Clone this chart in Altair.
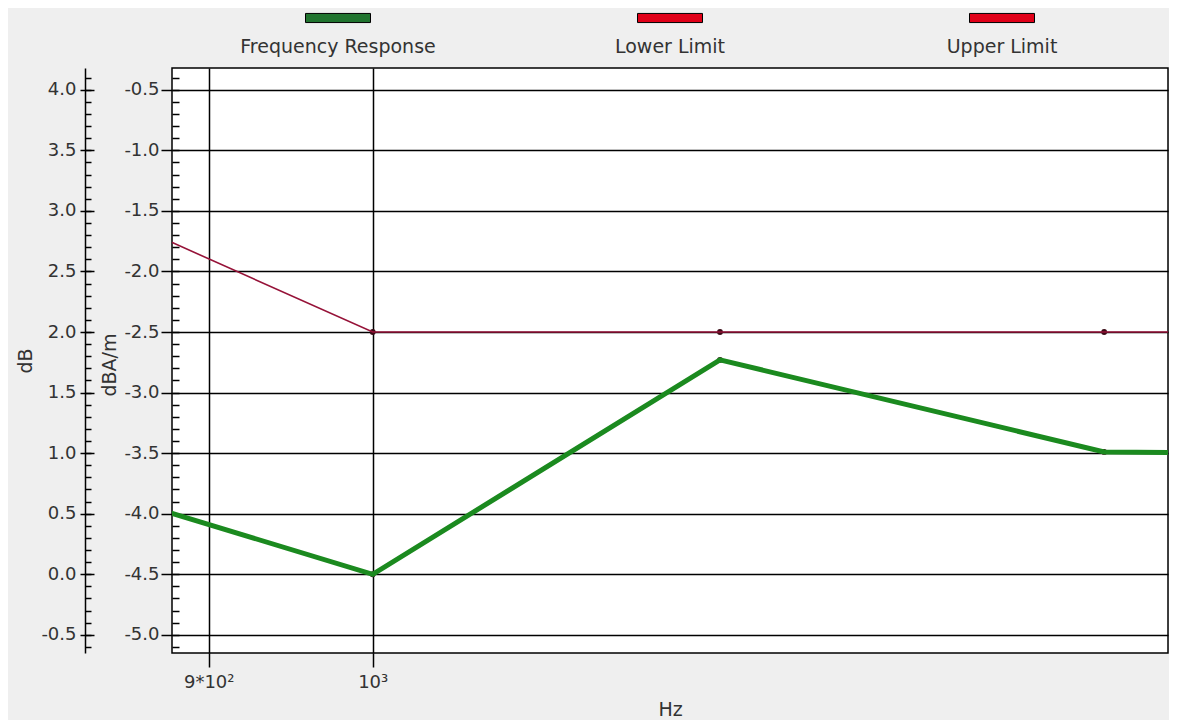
import altair as alt
import pandas as pd

# ---- data ----
freq_hz = [800, 1000, 1250, 1600, 2000]
response_dba_m = [-3.63, -4.5, -2.73, -3.49, -3.52]
lower_limit_dba_m = [-1.22, -2.5, -2.5, -2.5, -2.5]

series_names = ["Frequency Response", "Lower Limit", "Upper Limit"]
line_colors = ["#1b8a1f", "#961238", "#961238"]
legend_fills = ["#21742f", "#e00018", "#e00018"]

x_domain = [879, 1667]
y_domain = [-5.15, -0.32]
y_major = [-5.0, -4.5, -4.0, -3.5, -3.0, -2.5, -2.0, -1.5, -1.0, -0.5]
y_minor = [round(-5.1 + 0.1 * i, 1) for i in range(48)]
x_tick_values = [900, 1000]
x_tick_labels = ["9*10²", "10³"]
db_shift = 4.5

W, H = 996, 585
FONT = "DejaVu Sans"
TXT = "#333333"
BG = "#efefef"

df = pd.DataFrame({
    "freq": freq_hz + freq_hz,
    "value": response_dba_m + lower_limit_dba_m,
    "series": [series_names[0]] * len(freq_hz) + [series_names[1]] * len(freq_hz),
})

label_expr = " : ".join(
    f"datum.value == {v} ? '{t}'" for v, t in zip(x_tick_values[:-1], x_tick_labels[:-1])
) + f" : '{x_tick_labels[-1]}'"

xscale = alt.Scale(type="log", domain=x_domain, nice=False, zero=False)
yscale = alt.Scale(domain=y_domain, nice=False, zero=False)

x_main = alt.X(
    "freq:Q", scale=xscale,
    axis=alt.Axis(values=x_tick_values, labelExpr=label_expr, tickSize=14,
                  tickColor="black", tickWidth=1.5, grid=True, gridColor="black",
                  gridWidth=1.5, gridOpacity=1, domain=False, labelPadding=6,
                  labelFont=FONT, labelFontSize=18, labelColor=TXT,
                  title="Hz", titleFont=FONT, titleFontSize=19, titleFontWeight="normal",
                  titleColor=TXT, titleY=56, titleBaseline="middle", titleAlign="center"),
)
x_none = alt.X("freq:Q", scale=xscale, axis=None)


def yenc(axis):
    return alt.Y("value:Q", scale=yscale, axis=axis)


ax_inner_major = alt.Axis(
    values=y_major, orient="left", tickSize=11, tickColor="black",
    labelExpr="replace(format(datum.value, '.1f'), '\u2212', '-')",
    tickWidth=1.5, grid=True, gridColor="black", gridWidth=1.5, gridOpacity=1,
    domain=False, labelPadding=2, labelFont=FONT, labelFontSize=18, labelColor=TXT,
    title="dBA/m", titleFont=FONT, titleFontSize=19, titleFontWeight="normal",
    titleColor=TXT, titleX=-63, titleY=H / 2 + 4, titleAngle=270, titleAlign="center",
    titleBaseline="middle",
)
ax_inner_minor = alt.Axis(
    values=y_minor, orient="right", offset=-W, tickSize=7, tickColor="black",
    tickWidth=1.5, labels=False, domain=False, grid=False, title="",
)
ax_outer = alt.Axis(
    values=y_major, orient="left", offset=87, tickSize=5, tickColor="black",
    tickWidth=1.5, domain=True, domainColor="black", domainWidth=1.5, grid=False,
    labelExpr=f"replace(format(datum.value + {db_shift}, '.1f'), '\u2212', '-')",
    labelPadding=4, labelFont=FONT, labelFontSize=18, labelColor=TXT,
    title="dB", titleFont=FONT, titleFontSize=19, titleFontWeight="normal",
    titleColor=TXT, titleX=-60, titleY=H / 2, titleAngle=270, titleAlign="center",
    titleBaseline="middle",
)
ax_outer_r_minor = alt.Axis(
    values=y_minor, orient="right", offset=-(W + 87), tickSize=6, tickColor="black",
    tickWidth=1.5, labels=False, domain=False, grid=False, title="",
)
ax_outer_r_major = alt.Axis(
    values=y_major, orient="right", offset=-(W + 87), tickSize=9, tickColor="black",
    tickWidth=1.5, labels=False, domain=False, grid=False, title="",
)

base = alt.Chart(df)
resp = base.transform_filter(alt.datum.series == series_names[0])
low = base.transform_filter(alt.datum.series == series_names[1])

points = base.mark_point(filled=True, size=34, color="#3a0b16", opacity=1, clip=True).encode(
    x=x_main, y=yenc(ax_inner_major)
)
red_line = low.mark_line(color=line_colors[1], strokeWidth=1.6, clip=True).encode(
    x=x_none, y=yenc(ax_inner_minor)
)
green_line = resp.mark_line(color=line_colors[0], strokeWidth=5, clip=True).encode(
    x=x_none, y=yenc(ax_outer)
)
ghost1 = low.mark_line(opacity=0, clip=True).encode(x=x_none, y=yenc(ax_outer_r_minor))
ghost2 = low.mark_line(opacity=0, clip=True).encode(x=x_none, y=yenc(ax_outer_r_major))

main = (
    alt.layer(points, red_line, green_line, ghost1, ghost2)
    .resolve_scale(x="shared", y="shared")
    .resolve_axis(x="independent", y="independent")
    .properties(width=W, height=H,
                view=alt.ViewBackground(fill="white", stroke="black", strokeWidth=1.5))
)

# ---- legend panel ----
leg_df = pd.DataFrame({"series": series_names, "fill": legend_fills})
leg_x = alt.X("series:N", scale=alt.Scale(type="point", domain=series_names, padding=0.5),
              axis=None)
swatches = alt.Chart(leg_df).mark_point(
    shape="M-1,-0.14H1V0.14H-1Z", size=4225, filled=True, stroke="black",
    strokeWidth=1, opacity=1,
).encode(x=leg_x, y=alt.value(10), fill=alt.Fill("fill:N", scale=None))
labels = alt.Chart(leg_df).mark_text(
    font=FONT, fontSize=19, color=TXT, baseline="middle", align="center"
).encode(x=leg_x, y=alt.value(39), text="series:N")
legend = (
    alt.layer(swatches, labels)
    .properties(width=W, height=52,
                view=alt.ViewBackground(fill=BG, strokeOpacity=0, strokeWidth=0))
)

chart = (
    alt.vconcat(legend, main, spacing=7)
    .properties(background=BG, padding={"left": 7, "top": 0, "right": 0, "bottom": 0})
)

chart.save("out.html", embed_options={"renderer": "svg", "actions": False})
